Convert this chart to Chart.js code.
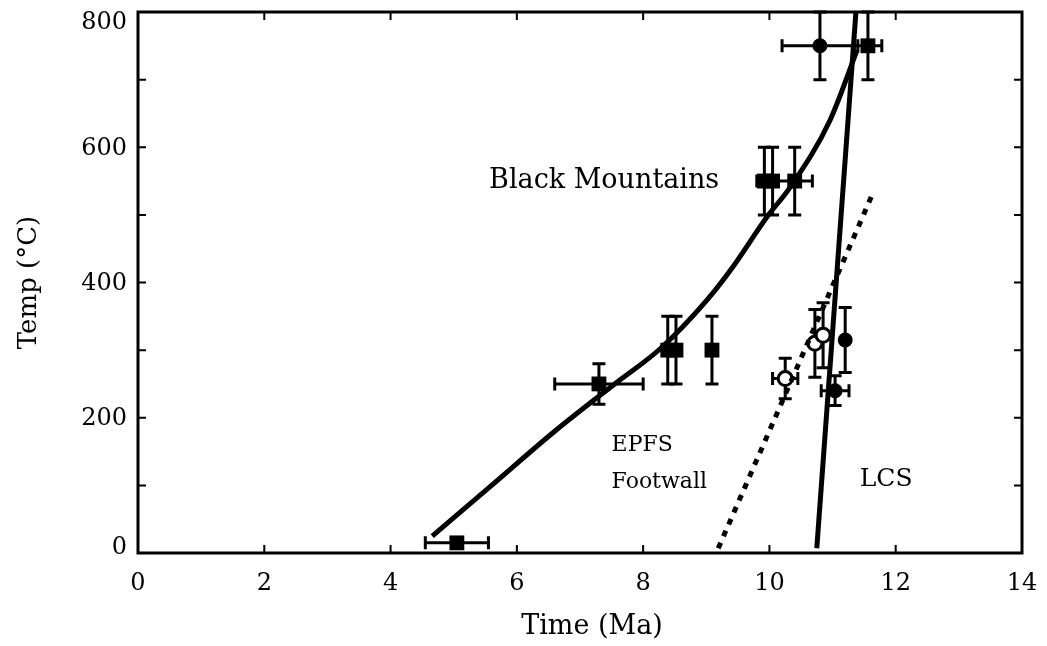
<!DOCTYPE html>
<html>
<head>
<meta charset="utf-8">
<script src="https://cdn.jsdelivr.net/npm/chart.js@4.4.1/dist/chart.umd.min.js"></script>
<style>
  html, body { margin: 0; padding: 0; background: #fff; }
  #wrap { width: 1047px; height: 646px; }
</style>
</head>
<body>
<div id="wrap"><canvas id="c" width="1047" height="646"></canvas></div>
<script>
// Black Mountains samples (filled squares)
const bmSqTime    = [5.05, 7.30, 8.39, 8.52, 9.09, 9.92, 10.05, 10.40, 11.56];
const bmSqTemp    = [15,   250,  300,  300,  300,  550,  550,   550,   750];
const bmSqTimeErr = [0.5,  0.7,  0,    0,    0,    0.12, 0,     0.28,  0.22];
const bmSqTempErr = [0,    30,   50,   50,   50,   50,   50,    50,    50];

// Black Mountains sample (filled circle)
const bmCirTime    = [10.80];
const bmCirTemp    = [750];
const bmCirTimeErr = [0.6];
const bmCirTempErr = [50];

// LCS samples (filled circles)
const lcsCirTime    = [11.20, 11.04];
const lcsCirTemp    = [315,   240];
const lcsCirTimeErr = [0,     0.22];
const lcsCirTempErr = [48,    22];

// EPFS footwall samples (open circles)
const epfsTime    = [10.25, 10.72, 10.85];
const epfsTemp    = [258,   310,   322];
const epfsTimeErr = [0.2,   0,     0];
const epfsTempErr = [30,    50,    48];

// Black Mountains cooling path
const bmPathTime = [4.66, 5.60, 6.60, 7.55, 8.27, 9.01, 9.42, 9.96, 10.33, 10.96, 11.39];
const bmPathTemp = [25,   100,  180,  250,  302,  374,  423,  497,  541,   640,   744];

// LCS cooling path
const lcsPathTime = [10.75, 11.37];
const lcsPathTemp = [7,     800];

// EPFS footwall cooling path
const epfsPathTime = [9.19, 11.62];
const epfsPathTemp = [7,    528];

// Axis ticks
const xTicks = [0, 2, 4, 6, 8, 10, 12, 14];
const yTicks = [0, 100, 200, 300, 400, 500, 600, 700, 800];
const yLabels = ['0', '200', '400', '600', '800'];

// Text annotations placed in data coordinates
const notes = [
  { text: 'Black Mountains', t: 5.56,  temp: 550 },
  { text: 'EPFS',            t: 7.50,  temp: 160 },
  { text: 'Footwall',        t: 7.50,  temp: 105 },
  { text: 'LCS',             t: 11.43, temp: 108 }
];

const FONT = '"DejaVu Serif", serif';
const noteSize = { 'Black Mountains': 27, 'EPFS': 22, 'Footwall': 22, 'LCS': 25 };

function pts(xs, ys) { return xs.map((x, i) => ({ x: x, y: ys[i] })); }

const errorBars = {
  id: 'errorBars',
  beforeDatasetsDraw(chart) {
    const { ctx, chartArea: a, scales: { x, y } } = chart;
    ctx.save();
    ctx.beginPath();
    ctx.rect(a.left, a.top - 2, a.right - a.left, a.bottom - a.top + 2);
    ctx.clip();
    ctx.strokeStyle = '#000';
    ctx.lineWidth = 3;
    ctx.lineCap = 'butt';
    const cap = 6.5;
    chart.data.datasets.forEach(ds => {
      if (!ds.errX) return;
      ds.data.forEach((p, i) => {
        const px = x.getPixelForValue(p.x), py = y.getPixelForValue(p.y);
        const ex = ds.errX[i], ey = ds.errY[i];
        ctx.beginPath();
        if (ey > 0) {
          const t = y.getPixelForValue(p.y + ey), b = y.getPixelForValue(p.y - ey);
          ctx.moveTo(px, t); ctx.lineTo(px, b);
          ctx.moveTo(px - cap, t); ctx.lineTo(px + cap, t);
          ctx.moveTo(px - cap, b); ctx.lineTo(px + cap, b);
        }
        if (ex > 0) {
          const l = x.getPixelForValue(p.x - ex), r = x.getPixelForValue(p.x + ex);
          ctx.moveTo(l, py); ctx.lineTo(r, py);
          ctx.moveTo(l, py - cap); ctx.lineTo(l, py + cap);
          ctx.moveTo(r, py - cap); ctx.lineTo(r, py + cap);
        }
        ctx.stroke();
      });
    });
    ctx.restore();
  }
};

const frameAndNotes = {
  id: 'frameAndNotes',
  afterDraw(chart) {
    const { ctx, chartArea: a, scales: { x, y } } = chart;
    ctx.save();
    ctx.strokeStyle = '#000';
    ctx.lineWidth = 3;
    ctx.strokeRect(a.left, a.top, a.right - a.left, a.bottom - a.top);
    ctx.lineWidth = 2;
    const tl = 8;
    ctx.beginPath();
    xTicks.forEach(v => {
      const px = x.getPixelForValue(v);
      ctx.moveTo(px, a.bottom); ctx.lineTo(px, a.bottom - tl);
      ctx.moveTo(px, a.top); ctx.lineTo(px, a.top + tl);
    });
    yTicks.forEach(v => {
      const py = y.getPixelForValue(v);
      ctx.moveTo(a.left, py); ctx.lineTo(a.left + tl, py);
      ctx.moveTo(a.right, py); ctx.lineTo(a.right - tl, py);
    });
    ctx.stroke();
    ctx.fillStyle = '#000';
    // y tick labels, the outermost ones kept inside the frame height
    ctx.font = '24px ' + FONT;
    ctx.textBaseline = 'middle';
    ctx.textAlign = 'right';
    yLabels.forEach(s => {
      const py = y.getPixelForValue(Number(s));
      const cy = Math.min(Math.max(py + 1.5, a.top + 11), a.bottom - 5);
      ctx.fillText(s, a.left - 11, cy);
    });
    // x axis title, set slightly right of the frame centre
    ctx.font = '27px ' + FONT;
    ctx.textAlign = 'center';
    ctx.fillText('Time (Ma)', x.getPixelForValue(7.19), 627);
    ctx.textAlign = 'left';
    notes.forEach(n => {
      ctx.font = noteSize[n.text] + 'px ' + FONT;
      ctx.fillText(n.text, x.getPixelForValue(n.t), y.getPixelForValue(n.temp));
    });
    ctx.restore();
  }
};

new Chart(document.getElementById('c'), {
  type: 'scatter',
  data: {
    datasets: [
      { label: 'Black Mountains path', data: pts(bmPathTime, bmPathTemp), showLine: true,
        borderColor: '#000', borderWidth: 5, pointRadius: 0, tension: 0.4,
        cubicInterpolationMode: 'monotone', borderCapStyle: 'butt' },
      { label: 'LCS path', data: pts(lcsPathTime, lcsPathTemp), showLine: true,
        borderColor: '#000', borderWidth: 5, pointRadius: 0 },
      { label: 'EPFS footwall path', data: pts(epfsPathTime, epfsPathTemp), showLine: true,
        borderColor: '#000', borderWidth: 5, pointRadius: 0, borderDash: [6, 7] },
      { label: 'Black Mountains (squares)', data: pts(bmSqTime, bmSqTemp),
        errX: bmSqTimeErr, errY: bmSqTempErr,
        pointStyle: 'rect', pointRadius: 10.5, backgroundColor: '#000', borderColor: '#000', borderWidth: 0 },
      { label: 'Black Mountains (circle)', data: pts(bmCirTime, bmCirTemp),
        errX: bmCirTimeErr, errY: bmCirTempErr,
        pointStyle: 'circle', pointRadius: 7.5, backgroundColor: '#000', borderColor: '#000', borderWidth: 0 },
      { label: 'LCS', data: pts(lcsCirTime, lcsCirTemp),
        errX: lcsCirTimeErr, errY: lcsCirTempErr,
        pointStyle: 'circle', pointRadius: 7.5, backgroundColor: '#000', borderColor: '#000', borderWidth: 0 },
      { label: 'EPFS footwall', data: pts(epfsTime, epfsTemp),
        errX: epfsTimeErr, errY: epfsTempErr,
        pointStyle: 'circle', pointRadius: 7, backgroundColor: '#fff', borderColor: '#000', borderWidth: 3 }
    ]
  },
  options: {
    responsive: false,
    animation: false,
    events: [],
    layout: { padding: { left: 0, top: 12, right: 25, bottom: 0 } },
    plugins: { legend: { display: false }, tooltip: { enabled: false } },
    scales: {
      x: {
        type: 'linear', min: 0, max: 14,
        afterFit(s) { s.height = 93; s.paddingLeft = 0; s.paddingRight = 0; },
        grid: { display: false, drawTicks: false },
        border: { display: false },
        ticks: { stepSize: 2, color: '#000', padding: 16, font: { family: FONT, size: 24 } },
        title: { display: false }
      },
      y: {
        type: 'linear', min: 0, max: 800,
        afterFit(s) { s.width = 138; s.paddingTop = 0; s.paddingBottom = 0; },
        grid: { display: false, drawTicks: false },
        border: { display: false },
        ticks: { display: false, stepSize: 200 },
        title: { display: true, text: 'Temp (°C)', color: '#000', padding: { top: 14, bottom: 0 },
                 font: { family: FONT, size: 26 } }
      }
    }
  },
  plugins: [errorBars, frameAndNotes]
});
</script>
</body>
</html>
